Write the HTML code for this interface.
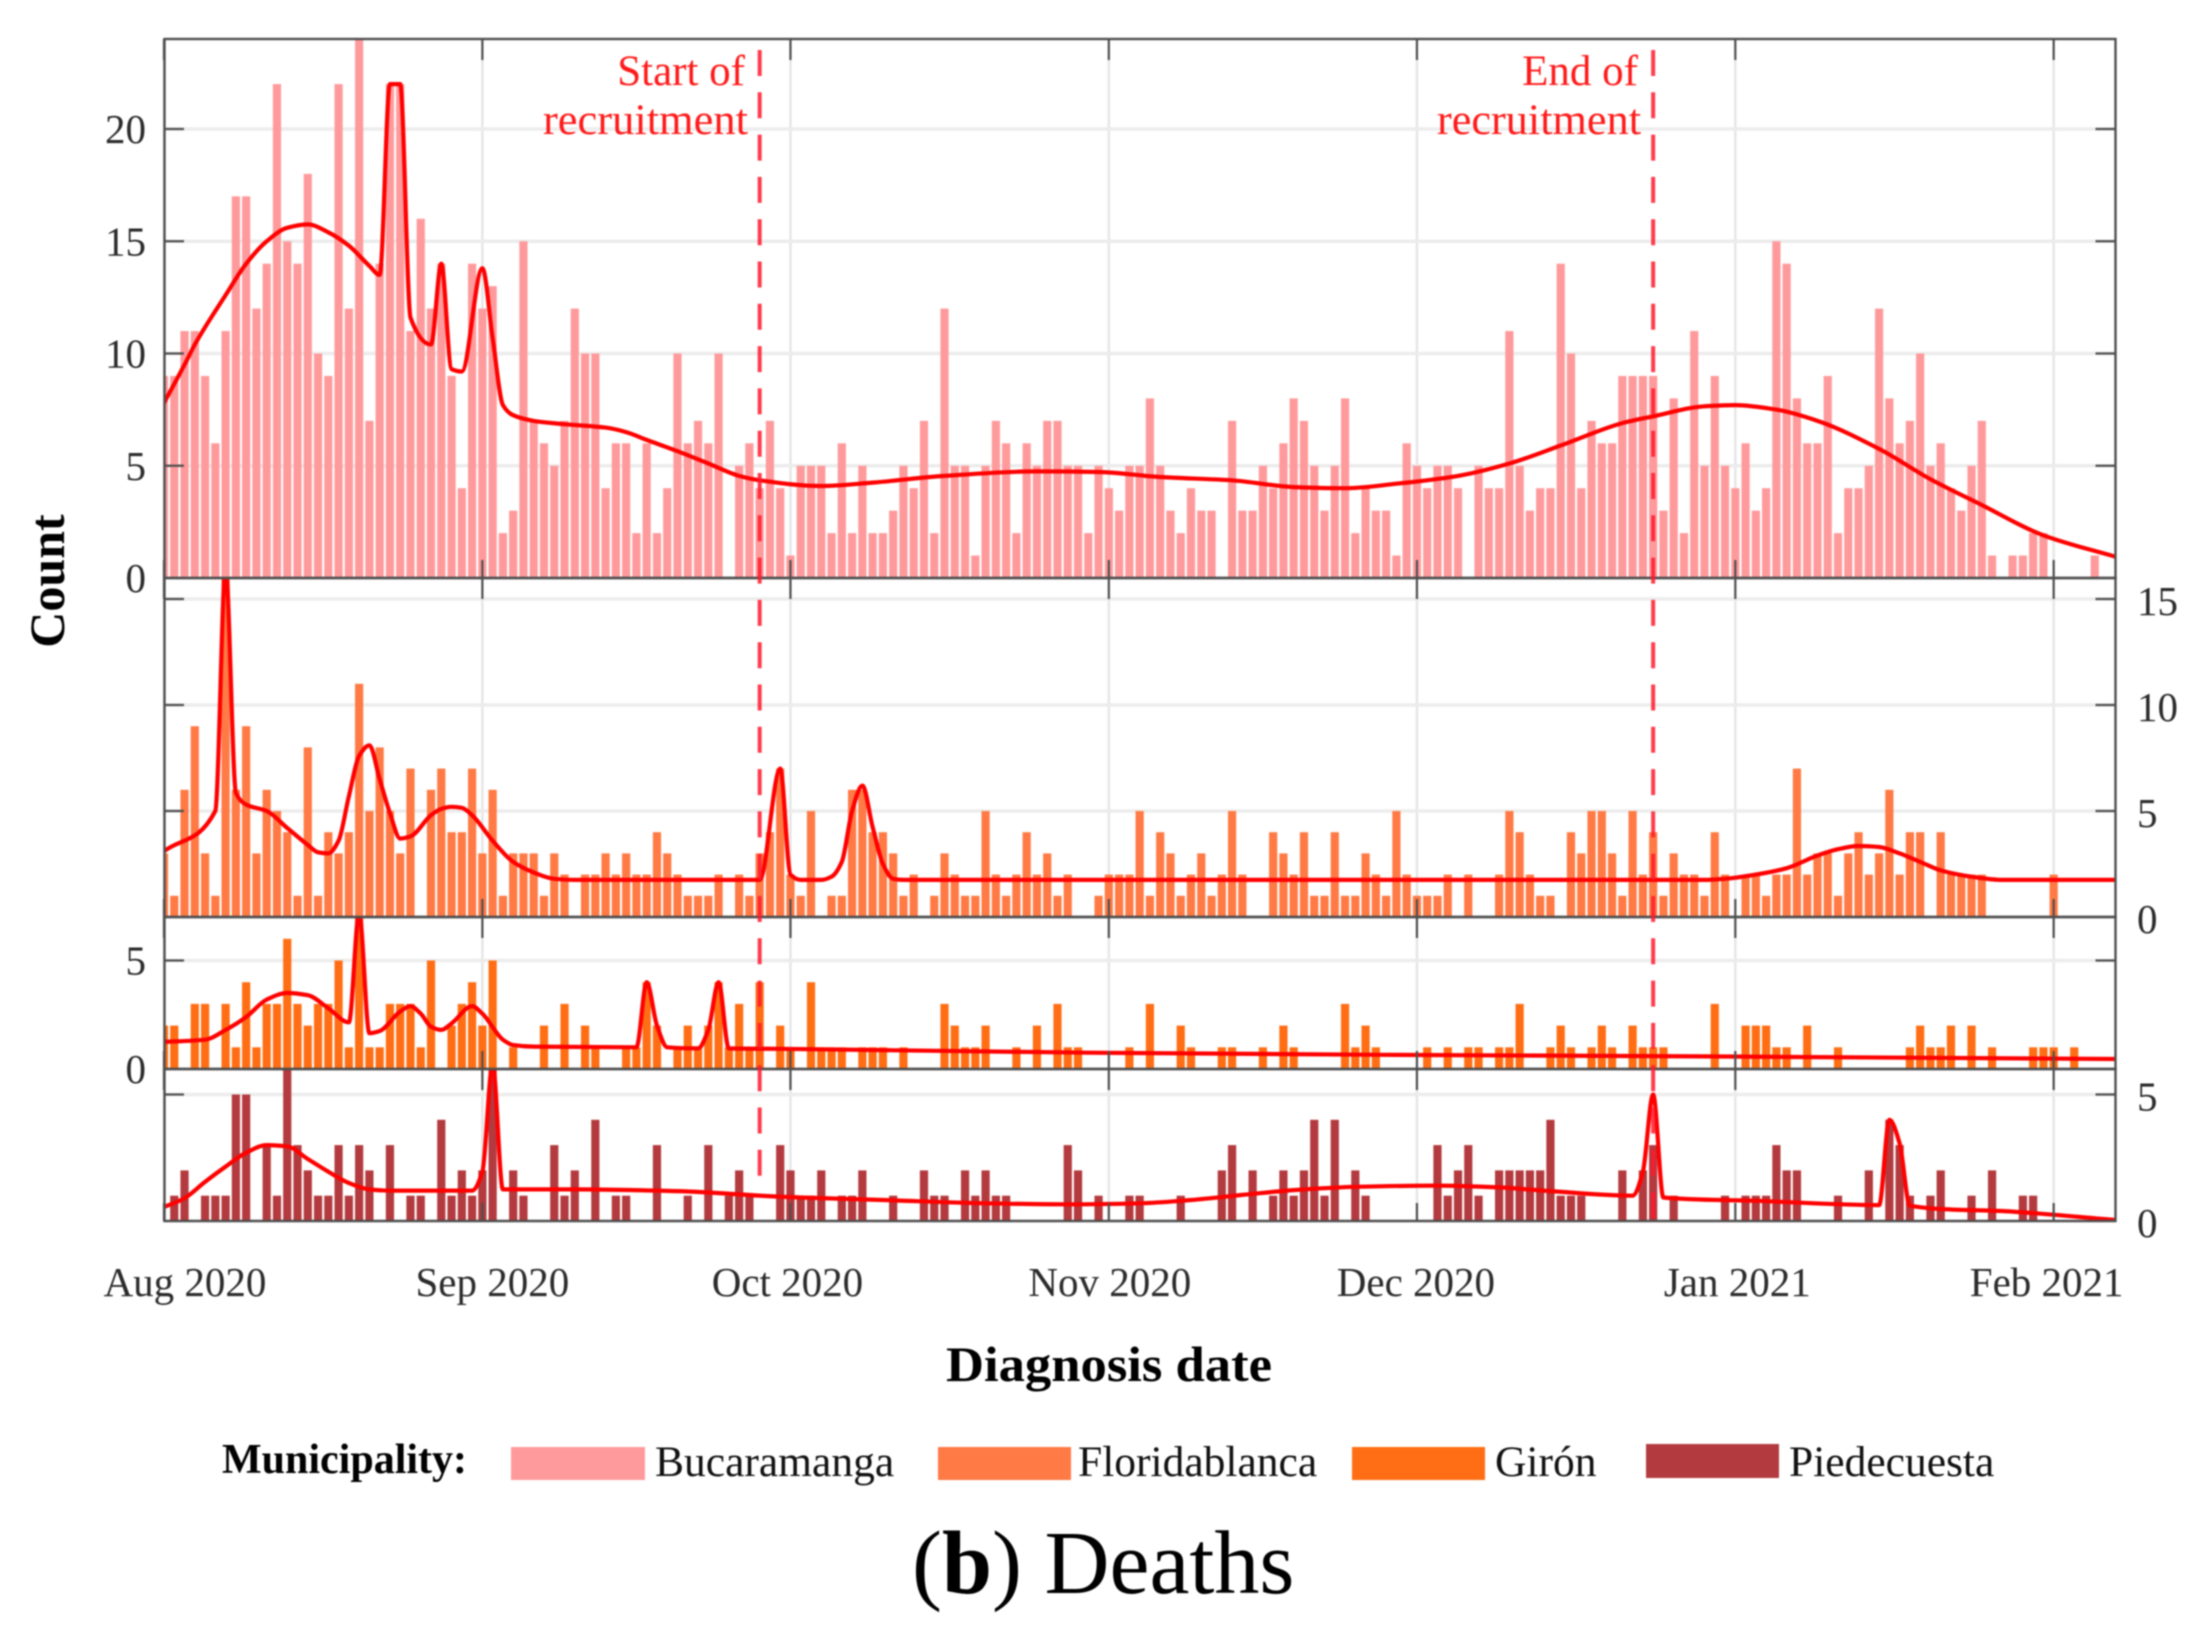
<!DOCTYPE html>
<html lang="en">
<head>
<meta charset="utf-8">
<title>Deaths by municipality and diagnosis date</title>
<style>
  html, body { margin: 0; padding: 0; background: #fff; }
  #chart { display: block; width: 2195px; height: 1632px; filter: blur(0.8px); font-family: "Liberation Serif", serif; }
  .tick-label { font-size: 41px; fill: #2b2b2b; }
  .annotation { font-size: 43px; fill: #ff1a1a; text-anchor: end; }
  .legend-label { font-size: 43.5px; fill: #111; }
</style>
</head>
<body>
<svg id="chart" xmlns="http://www.w3.org/2000/svg" width="2195" height="1632" viewBox="0 0 2195 1632">
  <defs>
    <clipPath id="clip-bucaramanga"><rect x="164" y="39" width="1952" height="539"/></clipPath>
    <clipPath id="clip-floridablanca"><rect x="164" y="578" width="1952" height="339"/></clipPath>
    <clipPath id="clip-giron"><rect x="164" y="917" width="1952" height="152"/></clipPath>
    <clipPath id="clip-piedecuesta"><rect x="164" y="1069" width="1952" height="152"/></clipPath>
  </defs>
  <g id="grid-layer"></g>
  <g id="bars-layer"></g>
  <g id="lines-layer"></g>
  <g id="frame-layer"></g>
  <g id="marker-layer"></g>
  <g id="label-layer"></g>

  <text class="annotation" x="745" y="85">Start of</text>
  <text class="annotation" x="748" y="134" textLength="205" lengthAdjust="spacingAndGlyphs">recruitment</text>
  <text class="annotation" x="1638" y="85">End of</text>
  <text class="annotation" x="1641" y="134" textLength="204" lengthAdjust="spacingAndGlyphs">recruitment</text>

  <text x="64" y="581" transform="rotate(-90 64 581)" text-anchor="middle" font-size="50" font-weight="bold" fill="#000">Count</text>
  <text x="1109" y="1381" text-anchor="middle" font-size="50" font-weight="bold" fill="#000" textLength="326" lengthAdjust="spacingAndGlyphs">Diagnosis date</text>

  <g>
    <text x="222" y="1473" font-size="42" font-weight="bold" fill="#000">Municipality:</text>
    <rect x="511" y="1447" width="134" height="33" fill="#ff9a9c"/>
    <text class="legend-label" x="655" y="1476">Bucaramanga</text>
    <rect x="938" y="1447" width="133" height="33" fill="#ff7a45"/>
    <text class="legend-label" x="1078" y="1476">Floridablanca</text>
    <rect x="1352" y="1447" width="133" height="33" fill="#ff6e14"/>
    <text class="legend-label" x="1495" y="1476">Girón</text>
    <rect x="1646" y="1444" width="133" height="34" fill="#b33a3e"/>
    <text class="legend-label" x="1789" y="1476">Piedecuesta</text>
  </g>

  <text x="912" y="1593" font-size="90" fill="#000">(<tspan font-weight="bold">b</tspan>) Deaths</text>
</svg>

<script>
// Daily death counts, one value per day from 1 Aug 2020
const bucaramangaCounts = [
  9,9,11,11,9,6,11,17,17,12,
  14,22,15,14,18,10,9,22,12,24,
  7,14,22,22,11,16,12,14,9,4,
  14,12,13,2,3,15,7,6,5,7,
  12,10,10,4,6,6,2,6,2,4,
  10,6,7,6,10,0,5,6,4,7,
  4,1,5,5,5,2,6,2,5,2,
  2,3,5,4,7,2,12,5,5,1,
  5,7,6,2,6,5,7,7,5,5,
  2,5,4,3,5,5,8,5,3,2,
  4,3,3,0,7,3,3,5,4,6,
  8,7,5,3,5,8,2,4,3,3,
  1,6,5,4,5,5,4,0,5,4,
  4,11,5,3,4,4,14,10,4,7,
  6,6,9,9,9,9,3,8,2,11,
  5,9,5,4,6,3,4,15,14,8,
  6,6,9,2,4,4,5,12,8,6,
  7,10,5,6,4,3,5,7,1,0,
  1,1,2,2,0,0,0,0,1,0
];
const floridablancaCounts = [
  3,1,6,9,3,1,16,6,9,3,
  6,5,4,1,8,1,4,3,4,11,
  5,8,5,3,7,0,6,7,4,4,
  7,3,6,1,3,3,3,1,3,2,
  0,2,2,3,2,3,2,2,4,3,
  2,1,1,1,2,0,2,1,3,4,
  7,2,1,5,0,1,1,6,6,4,
  4,3,1,2,0,1,3,2,1,1,
  5,2,1,2,4,2,3,1,2,0,
  0,1,2,2,2,5,1,4,3,1,
  2,3,1,2,5,2,0,0,4,3,
  2,4,1,1,4,1,1,3,2,1,
  5,2,1,1,1,2,0,2,0,0,
  2,5,4,2,1,1,0,4,3,5,
  5,3,1,5,2,4,1,3,2,2,
  1,4,2,0,2,2,1,2,2,7,
  2,3,3,1,3,4,2,3,6,2,
  4,4,0,4,2,2,2,2,0,0,
  0,0,0,0,2,0,0,0,0,0
];
const gironCounts = [
  2,2,0,3,3,0,3,1,4,1,
  3,3,6,3,2,3,3,5,1,7,
  1,1,3,3,3,1,5,0,2,3,
  4,2,5,0,1,0,0,2,0,3,
  0,2,1,0,0,1,1,4,2,0,
  1,2,1,2,4,1,3,1,4,0,
  2,1,0,4,1,1,1,0,1,1,
  1,0,1,0,0,0,3,2,1,1,
  2,0,0,1,0,2,0,3,1,1,
  0,0,0,0,1,0,3,0,0,2,
  1,0,0,1,1,0,0,1,0,2,
  1,0,0,0,0,3,1,2,1,0,
  0,0,0,1,0,1,0,1,1,0,
  1,1,3,0,0,1,2,1,0,1,
  2,1,0,2,1,1,1,0,0,0,
  0,3,0,0,2,2,2,1,1,0,
  2,0,0,1,0,0,0,0,0,0,
  1,2,1,1,2,0,2,0,1,0,
  0,0,1,1,1,0,1,0,0,0
];
const piedecuestaCounts = [
  0,1,2,0,1,1,1,5,5,0,
  3,1,6,3,2,1,1,3,1,3,
  2,0,3,0,1,1,0,4,1,2,
  1,2,6,0,2,1,0,0,3,1,
  2,0,4,0,1,1,0,0,3,0,
  0,1,0,3,0,1,2,1,0,0,
  3,2,1,1,2,0,1,1,2,0,
  0,1,0,0,2,1,1,0,2,1,
  2,1,1,0,0,0,0,0,3,2,
  0,1,0,0,1,1,0,0,0,1,
  0,0,0,2,3,0,2,0,1,2,
  1,2,4,1,4,0,2,1,0,0,
  0,0,0,0,3,1,2,3,1,0,
  2,2,2,2,2,4,1,1,1,0,
  0,0,2,0,2,3,0,1,0,0,
  0,0,1,0,1,1,1,3,2,2,
  0,0,0,1,0,0,2,0,4,3,
  1,0,1,2,0,0,1,0,2,0,
  0,1,1,0,0,0,0,0,0,0
];

// Trend curves: day offsets and the value at each of them
const bucaramangaTrendDays = [0,2,3,6,8,10,12,14,16,18,20,21,22,23,24,26,27,28,29,31,32,33,34,36,39,43,45,47,50,53,56,58,64,69,76,85,91,97,104,110,115,120,126,131,136,142,145,150,153,157,161,167,172,177,183,190];
const bucaramangaTrendValues = [7.8,9.5,10.4,12.6,14,15,15.6,15.75,15.4,14.8,13.9,13.5,22,22,11.6,10.4,14,9.3,9.2,13.8,10.7,7.7,7.25,7,6.85,6.7,6.5,6.15,5.65,5.1,4.55,4.35,4.1,4.25,4.55,4.75,4.72,4.5,4.35,4.05,4,4.2,4.55,5.1,5.9,6.9,7.2,7.65,7.7,7.5,7,5.75,4.4,3.25,1.9,0.95];
const floridablancaTrendDays = [0,5,6,7,8,10,12,14,15,16,17,18,19,20,21,22,23,24,26,27,28,29,30,32,34,36,38,40,58,60,61,62,64,65,66,67,68,69,70,71,72,150,152,155,158,161,163,165,167,169,171,173,176,179,190];
const floridablancaTrendValues = [3.1,5,16.5,5.85,5.3,5,4.2,3.4,3.05,3,3.6,5.7,7.6,8.1,6.5,4.9,3.7,3.8,4.8,5.1,5.2,5.15,4.8,3.6,2.6,2.1,1.8,1.75,1.75,7,2,1.75,1.75,1.9,2.6,5,6.2,4.25,2.5,1.8,1.75,1.75,1.8,2,2.3,2.9,3.2,3.35,3.3,3,2.6,2.2,1.9,1.75,1.75];
const gironTrendDays = [0,4,6,8,10,12,14,16,18,19,20,21,23,24,25,26,27,28,30,31,33,34,36,46,47,48,49,52,53,54,55,60,90,120,150,190];
const gironTrendValues = [1.25,1.35,1.8,2.4,3.2,3.5,3.4,2.8,2.15,7.2,1.65,1.75,2.65,2.9,2.55,1.95,1.8,2.1,2.9,2.55,1.35,1.1,1.03,1,4,2,1,0.95,1.8,4,0.95,0.93,0.75,0.65,0.58,0.46];
const piedecuestaTrendDays = [0,2,4,6,8,10,12,14,16,18,20,22,30,31,32,33,40,50,60,62,70,80,88,95,100,105,110,116,124,130,135,143,144,145,146,155,167,168,169,170,180,190];
const piedecuestaTrendValues = [0.55,0.9,1.55,2.15,2.7,3,2.95,2.45,1.95,1.5,1.25,1.2,1.2,1.95,6.2,1.25,1.25,1.18,0.96,0.93,0.83,0.7,0.66,0.7,0.83,1.03,1.22,1.35,1.4,1.33,1.18,1,1.95,5,0.93,0.8,0.63,4,3.07,0.6,0.37,0.04];

// Axis labels
const monthTickDays = [0,31,61,92,122,153,184];
const monthTickLabels = ["Aug 2020","Sep 2020","Oct 2020","Nov 2020","Dec 2020","Jan 2021","Feb 2021"];
const bucaramangaYTicks = [0,5,10,15,20];
const floridablancaYTicks = [0,5,10,15];
const gironYTicks = [0,5];
const piedecuestaYTicks = [0,5];
const recruitmentStartDay = 58;
const recruitmentEndDay = 145;

// ---- layout (not data) ----
const NS = "http://www.w3.org/2000/svg";
const plotLeft = 164, plotRight = 2115.5, pxPerDay = 10.27, barWidth = 8.2;
const xScale = d => plotLeft + d * pxPerDay;
const monthLabelNudge = [21,10,-3,1,-1,2,-7];

function make(tag, attrs, parent) {
  const el = document.createElementNS(NS, tag);
  for (const k in attrs) el.setAttribute(k, attrs[k]);
  parent.appendChild(el);
  return el;
}

// Monotone cubic path through the given points (no overshoot at spikes)
function monotonePath(xs, ys) {
  const n = xs.length, dx = [], m = [], t = [];
  for (let i = 0; i < n - 1; i++) {
    dx[i] = xs[i + 1] - xs[i];
    m[i] = (ys[i + 1] - ys[i]) / dx[i];
  }
  t[0] = m[0];
  t[n - 1] = m[n - 2];
  for (let i = 1; i < n - 1; i++) {
    if (m[i - 1] * m[i] <= 0) { t[i] = 0; continue; }
    const w1 = 2 * dx[i] + dx[i - 1], w2 = dx[i] + 2 * dx[i - 1];
    t[i] = (w1 + w2) / (w1 / m[i - 1] + w2 / m[i]);
  }
  let d = "M" + xs[0].toFixed(1) + " " + ys[0].toFixed(1);
  for (let i = 0; i < n - 1; i++) {
    const h = dx[i] / 3;
    d += "C" + (xs[i] + h).toFixed(1) + " " + (ys[i] + t[i] * h).toFixed(1) + " " +
         (xs[i + 1] - h).toFixed(1) + " " + (ys[i + 1] - t[i + 1] * h).toFixed(1) + " " +
         xs[i + 1].toFixed(1) + " " + ys[i + 1].toFixed(1);
  }
  return d;
}

const panels = [
  { key: "bucaramanga", counts: bucaramangaCounts, days: bucaramangaTrendDays, trend: bucaramangaTrendValues, yTicks: bucaramangaYTicks, top: 39, zero: 578, unit: 22.45, color: "#ff9a9c", labels: "left" },
  { key: "floridablanca", counts: floridablancaCounts, days: floridablancaTrendDays, trend: floridablancaTrendValues, yTicks: floridablancaYTicks, top: 578, zero: 917, unit: 21.2, color: "#ff7a45", labels: "right" },
  { key: "giron", counts: gironCounts, days: gironTrendDays, trend: gironTrendValues, yTicks: gironYTicks, top: 917, zero: 1069, unit: 21.7, color: "#ff6e14", labels: "left" },
  { key: "piedecuesta", counts: piedecuestaCounts, days: piedecuestaTrendDays, trend: piedecuestaTrendValues, yTicks: piedecuestaYTicks, top: 1069, zero: 1221, unit: 25.3, color: "#b33a3e", labels: "right" }
];

const gridLayer = document.getElementById("grid-layer");
const barsLayer = document.getElementById("bars-layer");
const linesLayer = document.getElementById("lines-layer");
const frameLayer = document.getElementById("frame-layer");
const markerLayer = document.getElementById("marker-layer");
const labelLayer = document.getElementById("label-layer");

// vertical month gridlines
monthTickDays.forEach(d => {
  const gridV = make("line", { x1: xScale(d), x2: xScale(d), y1: 39, y2: 1221, stroke: "#e6e6e6", "stroke-width": 2.5 }, gridLayer);
  
  
});

panels.forEach(p => {
  const y = v => p.zero - v * p.unit;

  // horizontal gridlines
  p.yTicks.forEach(v => {
    const gridH = make("line", { x1: plotLeft, x2: plotRight, y1: y(v), y2: y(v), stroke: "#ececec", "stroke-width": 3.5 }, gridLayer);
    
    
  });

  // bars
  const barGroup = make("g", { "clip-path": "url(#clip-" + p.key + ")" }, barsLayer);
  
  
  p.counts.forEach((c, i) => {
    if (c <= 0) return;
    const bar = make("rect", { x: xScale(i) - barWidth / 2, y: y(c), width: barWidth, height: c * p.unit, fill: p.color }, barGroup);
    
    
  });

  // trend line
  const trend = make("path", { d: monotonePath(p.days.map(xScale), p.trend.map(y)), fill: "none", stroke: "#ff0000", "stroke-width": 4.2, "stroke-linejoin": "round", "clip-path": "url(#clip-" + p.key + ")" }, linesLayer);
  
  

  // frame
  const frame = make("rect", { x: plotLeft + 0.5, y: p.top, width: plotRight - plotLeft - 0.5, height: p.zero - p.top, fill: "none", stroke: "#4f4f4f", "stroke-width": 2.4 }, frameLayer);
  
  

  // month ticks
  monthTickDays.forEach(d => {
    [[p.top, p.top + 21], [p.zero - 18, p.zero]].forEach(seg => {
      const tick = make("line", { x1: xScale(d), x2: xScale(d), y1: seg[0], y2: seg[1], stroke: "#4f4f4f", "stroke-width": 2.2 }, frameLayer);
      
      
    });
  });

  // value ticks and labels
  p.yTicks.forEach(v => {
    if (v > 0) {
      [[plotLeft, plotLeft + 20], [plotRight - 20, plotRight]].forEach(seg => {
        const tick = make("line", { x1: seg[0], x2: seg[1], y1: y(v), y2: y(v), stroke: "#4f4f4f", "stroke-width": 2.2 }, frameLayer);
        
        
      });
    }
    const isLeft = p.labels === "left";
    const label = make("text", { x: isLeft ? 146 : 2137, y: y(v) + (isLeft ? 14 : 16), "text-anchor": isLeft ? "end" : "start", class: "tick-label" }, labelLayer);
    label.textContent = String(v);
    
    
  });
});

// month labels
monthTickDays.forEach((d, i) => {
  const label = make("text", { x: xScale(d) + monthLabelNudge[i], y: 1296, "text-anchor": "middle", class: "tick-label" }, labelLayer);
  label.textContent = monthTickLabels[i];
  
  
});

// recruitment markers
const startMarker = make("line", { x1: xScale(recruitmentStartDay), x2: xScale(recruitmentStartDay), y1: 50, y2: 1180, stroke: "#ff1a2e", "stroke-opacity": 0.85, "stroke-width": 4, "stroke-dasharray": "26 16.3" }, markerLayer);


const endMarker = make("line", { x1: xScale(recruitmentEndDay), x2: xScale(recruitmentEndDay), y1: 50, y2: 1221, stroke: "#ff1a2e", "stroke-opacity": 0.85, "stroke-width": 4, "stroke-dasharray": "26 16.3" }, markerLayer);


</script>
</body>
</html>
